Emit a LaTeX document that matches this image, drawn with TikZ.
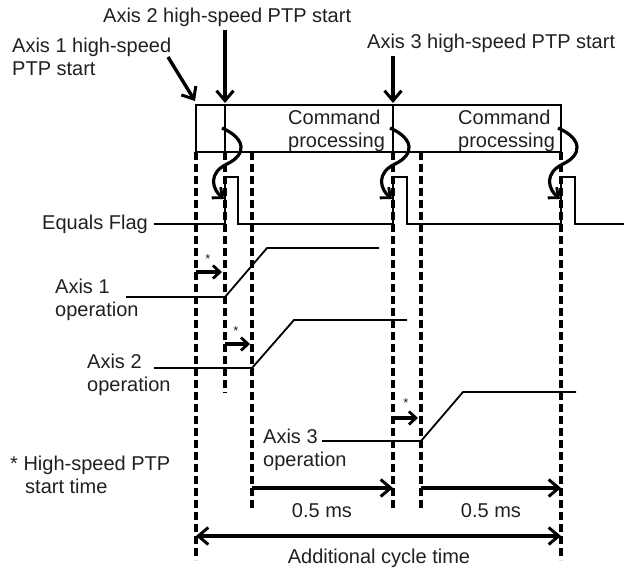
\documentclass[tikz,border=0pt]{standalone}
\usepackage{fontspec}
\setmainfont{Liberation Sans}
\usetikzlibrary{arrows.meta}
\definecolor{InkGray}{RGB}{35,31,32}
\tikzset{
  lbl/.style={font=\fontsize{20}{23}\selectfont,text=InkGray,inner sep=0pt,align=left},
  starlbl/.style={font=\fontsize{13}{13}\selectfont,text=InkGray,inner sep=0pt},
  sig/.style={line width=1.8pt},
  frame/.style={line width=2pt},
  guide/.style={line width=3.2pt,dash pattern=on 8pt off 4pt},
  pointer/.style={-{Straight Barb[length=10pt,width=17pt,line width=3pt]},line width=3.4pt},
  span/.style={-{Straight Barb[length=10pt,width=17pt,line width=3pt]},line width=3.4pt},
  bothspan/.style={{Straight Barb[length=10pt,width=17pt,line width=3pt]}-{Straight Barb[length=10pt,width=17pt,line width=3pt]},line width=3.4pt},
  delay/.style={-{Straight Barb[length=7pt,width=13pt,line width=2.8pt]},line width=3.2pt},
  wave/.style={-{Straight Barb[length=8pt,width=14pt,line width=2.8pt]},line width=3.2pt}
}

\begin{document}
\begin{tikzpicture}[x=1pt,y=-1pt]
  \useasboundingbox (0,0) rectangle (624,568);

  % command processing frame
  \coordinate (boxnw) at (196,105);
  \coordinate (boxse) at (561,152);
  \draw[frame] (boxnw) rectangle (boxse);
  \draw[frame] (225,105) -- (225,152) (393,105) -- (393,152);
  \node[lbl,anchor=base west] (cmdA) at (288,147) {Command\\processing};
  \node[lbl,anchor=base west] (cmdB) at (458,147) {Command\\processing};

  % start labels
  \node[lbl,anchor=base west] (startA) at (12,75) {Axis 1 high-speed\\PTP start};
  \node[lbl,anchor=base west] (startB) at (103,22) {Axis 2 high-speed PTP start};
  \node[lbl,anchor=base west] (startC) at (367,48) {Axis 3 high-speed PTP start};
  \coordinate (tipA) at (195,101);
  \coordinate (tipB) at (225,103);
  \coordinate (tipC) at (393,103);
  \draw[pointer] (168,57) -- (tipA);
  \draw[pointer] (startB.south -| tipB) ++(0,4) -- (tipB);
  \draw[pointer] (startC.south -| tipC) ++(0,4) -- (tipC);

  % timing guides
  \draw[guide] (196,152) -- (196,560);
  \draw[guide] (225,152) -- (225,393);
  \draw[guide] (252,152) -- (252,508);
  \draw[guide] (393,152) -- (393,508);
  \draw[guide] (421,152) -- (421,508);
  \draw[guide] (561,152) -- (561,560);

  % equals flag
  \node[lbl,anchor=base east] (flag) at (148,229) {Equals Flag};
  \draw[sig] (154,224) -| (225,177) -| (238,224) -| (393,177) -| (407,224)
    -| (561,177) -| (575,224) -- (624,224);
  \foreach \p in {225,393,561}
    \draw[wave] (\p-3,128) .. controls (\p+22,139) and (\p+21,155) .. (\p+2,164)
      .. controls (\p-17,173) and (\p-13,189) .. (\p-1,199);

  % axis operations
  \node[lbl,anchor=base west] (opA) at (55,316) {Axis 1\\operation};
  \draw[sig] (126,297) -- (225,297) -- (267,248) -- (379,248);
  \node[lbl,anchor=base west] (opB) at (87,391) {Axis 2\\operation};
  \draw[sig] (154,368) -- (252,368) -- (294,320) -- (407,320);
  \node[lbl,anchor=base west] (opC) at (263,466) {Axis 3\\operation};
  \draw[sig] (322,441) -- (421,441) -- (463,392) -- (576,392);

  % start delays
  \draw[delay] (196,272) -- (222,272);
  \node[starlbl] (starA) at (208,259) {*};
  \draw[delay] (225,344) -- (250,344);
  \node[starlbl] (starB) at (236,331) {*};
  \draw[delay] (393,418) -- (418,418);
  \node[starlbl] (starC) at (406,403) {*};

  % note
  \node[lbl,anchor=base west] (note) at (10,493) {* High-speed PTP\\\hspace*{15pt}start time};

  % spans
  \draw[span] (252,488) -- (393,488);
  \node[lbl,anchor=base] (halfA) at (322,517) {0.5 ms};
  \draw[span] (421,488) -- (561,488);
  \node[lbl,anchor=base] (halfB) at (491,517) {0.5 ms};
  \draw[bothspan] (196,536) -- (561,536);
  \node[lbl,anchor=base] (cycle) at (379,563) {Additional cycle time};
\end{tikzpicture}
\end{document}
